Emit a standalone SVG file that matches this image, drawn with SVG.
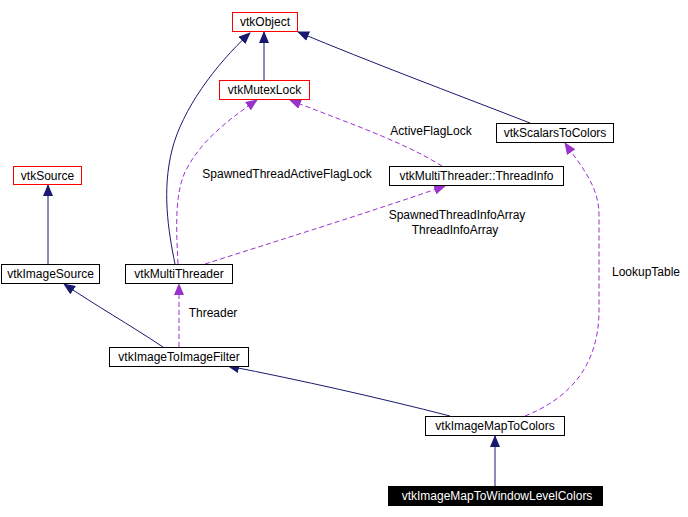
<svg xmlns="http://www.w3.org/2000/svg" width="688" height="517" viewBox="0 0 688 517">
<style>
text{font-family:"Liberation Sans",Arial,sans-serif;font-size:12px;fill:#000}
.n rect{fill:#fff;stroke:#000;stroke-width:1}
.n.r rect{stroke:#ff0000}
.n text{text-anchor:middle}
.n.k rect{fill:#000}
.n.k text{fill:#fff}
.inh{fill:none;stroke:#191970;stroke-width:1}
.use{fill:none;stroke:#9a32cd;stroke-width:1;stroke-dasharray:5,3}
.lbl{text-anchor:middle}
</style>
<defs>
<marker id="an" viewBox="0 0 12 10" refX="11" refY="5" markerWidth="12" markerHeight="10" markerUnits="userSpaceOnUse" orient="auto">
<path d="M0,0 L12,5 L0,10 z" fill="#191970"/>
</marker>
<marker id="ap" viewBox="0 0 12 10" refX="11" refY="5" markerWidth="12" markerHeight="10" markerUnits="userSpaceOnUse" orient="auto">
<path d="M0,0 L12,5 L0,10 z" fill="#9a32cd"/>
</marker>
</defs>
<g id="connectors">
<path class="inh" d="M264,80 L264,32" marker-end="url(#an)"/>
<path class="inh" d="M175,264 C168,230 162,190 172,150 C182,110 215,65 250,33" marker-end="url(#an)"/>
<path class="inh" d="M530,123 C450,92 370,62 298,32" marker-end="url(#an)"/>
<path class="inh" d="M48,264 L48,185" marker-end="url(#an)"/>
<path class="inh" d="M163,347 C130,325 95,305 64,284" marker-end="url(#an)"/>
<path class="inh" d="M450,416 C380,398 300,380 228,366" marker-end="url(#an)"/>
<path class="inh" d="M495,486 L495,436" marker-end="url(#an)"/>
<path class="use" d="M178,264 C176,225 175,195 185,172 C200,142 225,122 257,100" marker-end="url(#ap)"/>
<path class="use" d="M442,166 C400,140 340,120 290,100" marker-end="url(#ap)"/>
<path class="use" d="M205,264 C280,240 370,212 445,186" marker-end="url(#ap)"/>
<path class="use" d="M179,347 L179,284" marker-end="url(#ap)"/>
<path class="use" d="M525,416 C565,400 599,370 599,310 L599,215 C599,185 580,165 565,143" marker-end="url(#ap)"/>
</g>
<g id="labels">
<text x="287" y="178" class="lbl">SpawnedThreadActiveFlagLock</text>
<text x="431" y="135" class="lbl">ActiveFlagLock</text>
<text x="457" y="219" class="lbl">SpawnedThreadInfoArray</text>
<text x="455" y="234" class="lbl">ThreadInfoArray</text>
<text x="213" y="317" class="lbl">Threader</text>
<text x="646" y="276" class="lbl">LookupTable</text>
</g>
<g id="vtkObject" class="n r"><rect x="232.5" y="12.5" width="65" height="19"/><text x="265" y="25.5">vtkObject</text></g>
<g id="vtkMutexLock" class="n r"><rect x="219.5" y="80.5" width="90" height="19"/><text x="264.5" y="93.5">vtkMutexLock</text></g>
<g id="vtkSource" class="n r"><rect x="13.5" y="166.5" width="68" height="18"/><text x="47.5" y="179.5">vtkSource</text></g>
<g id="vtkScalarsToColors" class="n"><rect x="496.5" y="123.5" width="117" height="19"/><text x="555" y="136.5">vtkScalarsToColors</text></g>
<g id="vtkMultiThreaderThreadInfo" class="n"><rect x="389.5" y="166.5" width="174" height="19"/><text x="476.5" y="179.5">vtkMultiThreader::ThreadInfo</text></g>
<g id="vtkImageSource" class="n"><rect x="1.5" y="264.5" width="98" height="19"/><text x="50.5" y="277.5">vtkImageSource</text></g>
<g id="vtkMultiThreader" class="n"><rect x="125.5" y="264.5" width="107" height="19"/><text x="179" y="277.5">vtkMultiThreader</text></g>
<g id="vtkImageToImageFilter" class="n"><rect x="109.5" y="347.5" width="139" height="19"/><text x="179" y="360.5">vtkImageToImageFilter</text></g>
<g id="vtkImageMapToColors" class="n"><rect x="425.5" y="416.5" width="139" height="19"/><text x="495" y="429.5">vtkImageMapToColors</text></g>
<g id="vtkImageMapToWindowLevelColors" class="n k"><rect x="388.5" y="486.5" width="214" height="19"/><text x="497" y="499.5">vtkImageMapToWindowLevelColors</text></g>
</svg>
